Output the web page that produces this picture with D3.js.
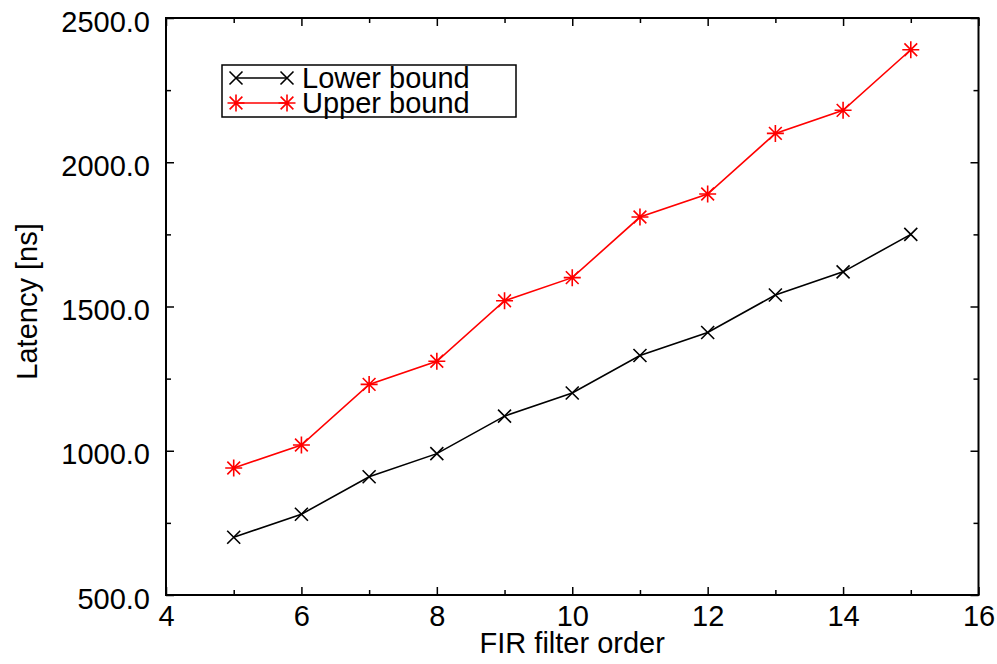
<!DOCTYPE html>
<html>
<head>
<meta charset="utf-8">
<script src="https://cdn.jsdelivr.net/npm/d3@7"></script>
<style>
  body { margin: 0; background: #fff; }
  text { font-family: "Liberation Sans", Arial, sans-serif; fill: #000; }
  .axis path { display: none; }
  .axis line { stroke: #000; stroke-width: 1.5; }
  .axis text { font-size: 29px; }
</style>
</head>
<body>
<div class="chart"></div>
<script>
// data
const firOrder = [5, 6, 7, 8, 9, 10, 11, 12, 13, 14, 15];
const lowerBound = [700, 780, 910, 990, 1120, 1200, 1330, 1410, 1540, 1620, 1750];
const upperBound = [940, 1020, 1230, 1310, 1520, 1600, 1810, 1890, 2100, 2180, 2390];
const xTicks = [4, 6, 8, 10, 12, 14, 16];
const xMinorTicks = [5, 7, 9, 11, 13, 15];
const yTicks = [500, 1000, 1500, 2000, 2500];
const yMinorTicks = [750, 1250, 1750, 2250];
const seriesNames = ['Lower bound', 'Upper bound'];

const svg_width = 997, svg_height = 664;
const margin = {top: 18, right: 18.5, bottom: 69, left: 166};
const chart_width = svg_width - margin.left - margin.right;
const chart_height = svg_height - margin.top - margin.bottom;

const svg = d3.select('.chart').append('svg')
  .attr('width', svg_width).attr('height', svg_height);
const g = svg.append('g')
  .attr('transform', `translate(${margin.left},${margin.top})`);

const xScale = d3.scaleLinear().domain([4, 16]).range([0, chart_width]);
const yScale = d3.scaleLinear().domain([500, 2500]).range([chart_height, 0]);

// ticks point inwards, on all four sides
g.append('g').attr('class', 'axis')
  .attr('transform', `translate(0,${chart_height})`)
  .call(d3.axisBottom(xScale).tickValues(xTicks).tickFormat(d3.format('d'))
    .tickSize(-8).tickSizeOuter(0).tickPadding(10));
g.append('g').attr('class', 'axis')
  .attr('transform', `translate(0,${chart_height})`)
  .call(d3.axisBottom(xScale).tickValues(xMinorTicks).tickFormat('')
    .tickSize(-5).tickSizeOuter(0));
g.append('g').attr('class', 'axis')
  .call(d3.axisTop(xScale).tickValues(xTicks).tickFormat('').tickSize(-8).tickSizeOuter(0));
g.append('g').attr('class', 'axis')
  .call(d3.axisTop(xScale).tickValues(xMinorTicks).tickFormat('').tickSize(-5).tickSizeOuter(0));

const yAxisDraw = g.append('g').attr('class', 'axis')
  .call(d3.axisLeft(yScale).tickValues(yTicks).tickFormat(d3.format('.1f'))
    .tickSize(-8).tickSizeOuter(0).tickPadding(16));
yAxisDraw.selectAll('text').attr('dy', '0.45em');
g.append('g').attr('class', 'axis')
  .call(d3.axisLeft(yScale).tickValues(yMinorTicks).tickFormat('').tickSize(-5).tickSizeOuter(0));
g.append('g').attr('class', 'axis')
  .attr('transform', `translate(${chart_width},0)`)
  .call(d3.axisRight(yScale).tickValues(yTicks).tickFormat('').tickSize(-8).tickSizeOuter(0));
g.append('g').attr('class', 'axis')
  .attr('transform', `translate(${chart_width},0)`)
  .call(d3.axisRight(yScale).tickValues(yMinorTicks).tickFormat('').tickSize(-5).tickSizeOuter(0));

// frame
g.append('rect')
  .attr('width', chart_width).attr('height', chart_height)
  .attr('fill', 'none').attr('stroke', '#000').attr('stroke-width', 2);

// markers
function crossPath(s) {
  return `M${-s},${-s}L${s},${s}M${-s},${s}L${s},${-s}`;
}
function starPath(s) {
  const d = s * 0.75;
  return `M${-s},0L${s},0M0,${-s}L0,${s}` + crossPath(d);
}

const line = d3.line().x(d => xScale(d[0])).y(d => yScale(d[1]));
const series = [
  {name: seriesNames[0], values: lowerBound, color: '#000', marker: crossPath(6.5)},
  {name: seriesNames[1], values: upperBound, color: '#ff0000', marker: starPath(8.5)}
];

series.forEach(s => {
  const pts = firOrder.map((x, i) => [x, s.values[i]]);
  g.append('path').datum(pts)
    .attr('d', line)
    .attr('fill', 'none').attr('stroke', s.color).attr('stroke-width', 1.6);
  g.selectAll(null).data(pts).enter().append('path')
    .attr('transform', d => `translate(${xScale(d[0])},${yScale(d[1])})`)
    .attr('d', s.marker)
    .attr('fill', 'none').attr('stroke', s.color).attr('stroke-width', 1.6);
});

// legend
const legend = svg.append('g').attr('transform', 'translate(222,65)');
legend.append('rect')
  .attr('width', 294).attr('height', 52)
  .attr('fill', '#fff').attr('stroke', '#000').attr('stroke-width', 1.5);
series.forEach((s, i) => {
  const ly = 13 + i * 25;
  legend.append('line')
    .attr('x1', 14).attr('x2', 65).attr('y1', ly).attr('y2', ly)
    .attr('stroke', s.color).attr('stroke-width', 1.6);
  [14, 65].forEach(mx => {
    legend.append('path')
      .attr('transform', `translate(${mx},${ly})`)
      .attr('d', s.marker)
      .attr('fill', 'none').attr('stroke', s.color).attr('stroke-width', 1.6);
  });
  legend.append('text')
    .attr('x', 80).attr('y', ly + 10)
    .style('font-size', '29px')
    .text(s.name);
});

// axis labels
svg.append('text')
  .attr('x', margin.left + chart_width / 2).attr('y', 653)
  .attr('text-anchor', 'middle').style('font-size', '29px')
  .text('FIR filter order');
svg.append('text')
  .attr('transform', `translate(37,${margin.top + chart_height / 2 - 5}) rotate(-90)`)
  .attr('text-anchor', 'middle').style('font-size', '29px')
  .text('Latency [ns]');
</script>
</body>
</html>
